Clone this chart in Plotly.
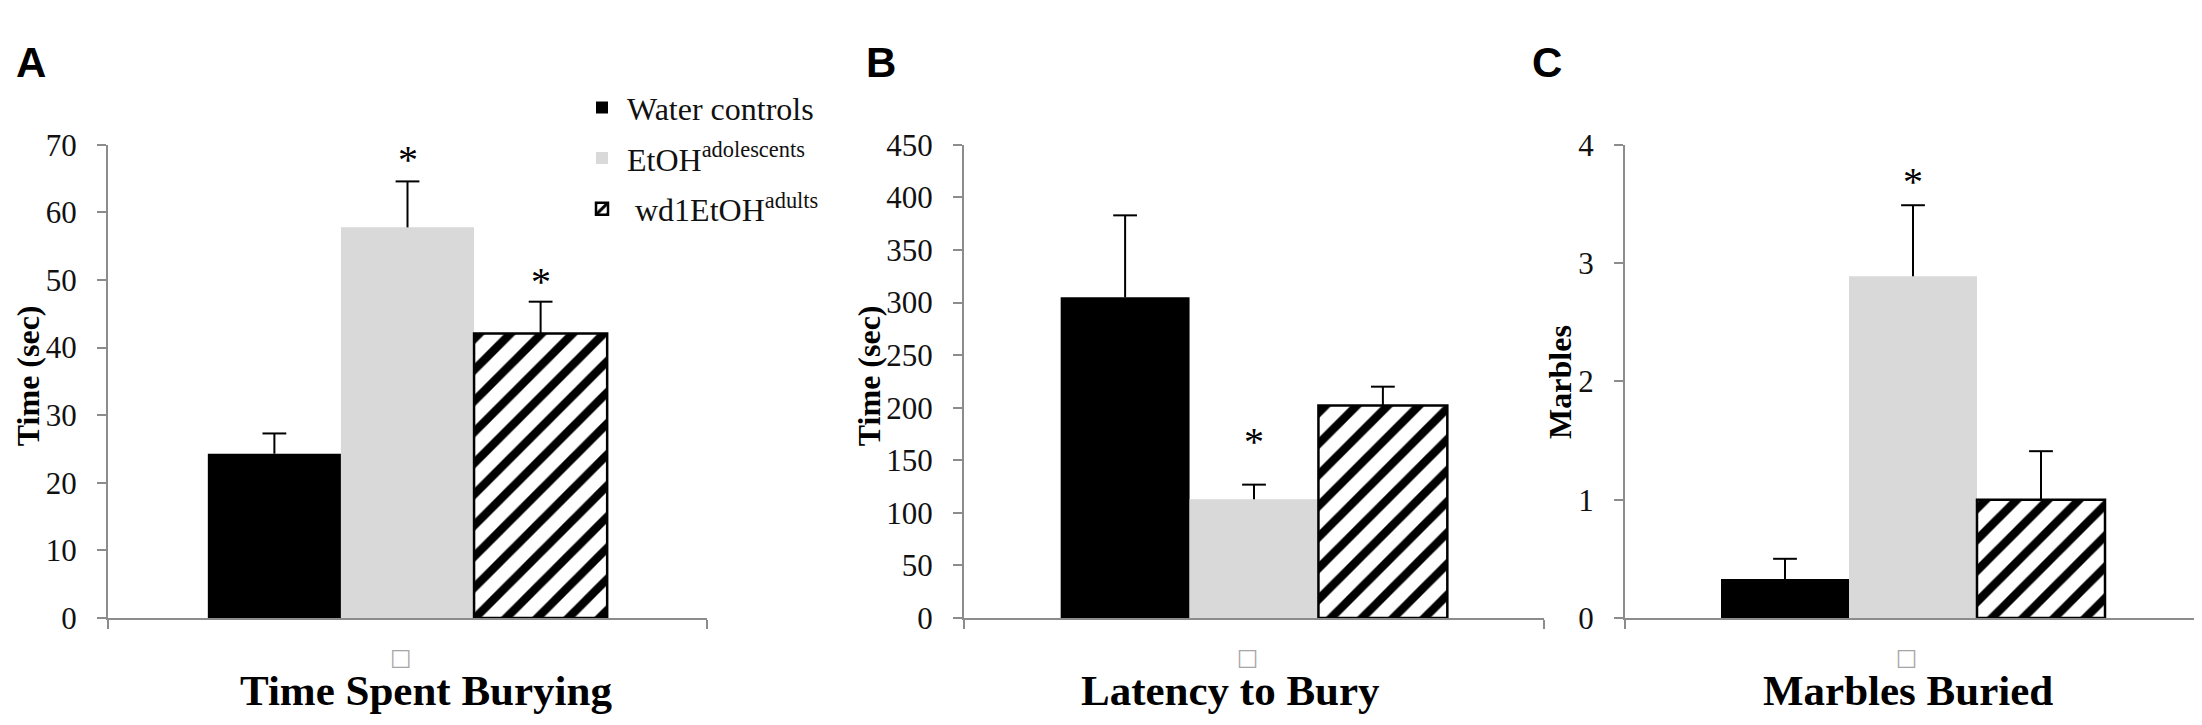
import plotly.graph_objects as go

# groups (legend labels) and bar styling order
groups = ["Water controls", "EtOH<sup>adolescents</sup>", " wd1EtOH<sup>adults</sup>"]
group_x = [0, 1, 2]

# panel A: time spent burying (sec)
burying_mean = [24.3, 57.8, 42.1]
burying_err = [3.0, 6.8, 4.7]
burying_star = [None, 67.9, 49.8]

# panel B: latency to bury (sec)
latency_mean = [305, 112.8, 202]
latency_err = [78, 14, 18]
latency_star = [None, 168, None]

# panel C: marbles buried
marbles_mean = [0.33, 2.89, 1.0]
marbles_err = [0.17, 0.6, 0.41]
marbles_star = [None, 3.69, None]

panel_titles = ["Time Spent Burying", "Latency to Bury", "Marbles Buried"]
panel_letters = ["A", "B", "C"]
y_titles = ["Time (sec)", "Time (sec)", "Marbles"]
y_ranges = [[0, 70], [0, 450], [0, 4]]
y_dticks = [10, 50, 1]

W, H = 2202, 725
x_domains = [[100 / W, 699 / W], [956 / W, 1536 / W], [1617 / W, 2193 / W]]
y_domain = [102 / H, 599 / H]

SERIF = "Liberation Serif"
SANS = "Liberation Sans"
GRID = "#8c8c8c"

styles = [
    dict(color="black", line=dict(width=0)),
    dict(color="#d9d9d9", line=dict(width=0)),
    dict(color="white", line=dict(color="black", width=2.5),
         pattern=dict(shape="/", fgcolor="black", bgcolor="white", fgopacity=1,
                      fillmode="replace", size=22, solidity=0.38)),
]

fig = go.Figure()

panels = [
    (burying_mean, burying_err, burying_star),
    (latency_mean, latency_err, latency_star),
    (marbles_mean, marbles_err, marbles_star),
]

for p, (means, errs, stars) in enumerate(panels):
    xa = "x" if p == 0 else f"x{p + 1}"
    ya = "y" if p == 0 else f"y{p + 1}"
    for g in range(3):
        # bar with upward-only error line (no caps)
        fig.add_trace(go.Bar(
            x=[group_x[g]], y=[means[g]], width=1,
            name=groups[g], legendgroup=groups[g], showlegend=(p == 0),
            marker=styles[g],
            error_y=dict(type="data", symmetric=False, array=[errs[g]], arrayminus=[0],
                         color="black", thickness=2, width=0),
            xaxis=xa, yaxis=ya, hoverinfo="skip",
        ))
        # top cap of the error bar
        fig.add_trace(go.Scatter(
            x=[group_x[g]], y=[means[g] + errs[g]], mode="markers",
            marker=dict(symbol="line-ew-open", size=17, color="black",
                        line=dict(color="black", width=2)),
            showlegend=False, xaxis=xa, yaxis=ya, hoverinfo="skip",
        ))
        if stars[g] is not None:
            fig.add_annotation(x=group_x[g], y=stars[g], xref=xa, yref=ya, text="*",
                               xanchor="center", yanchor="middle",
                               showarrow=False, font=dict(family=SERIF, size=40, color="black"))

layout_axes = {}
for p in range(3):
    sx = "" if p == 0 else str(p + 1)
    layout_axes[f"xaxis{sx}"] = dict(
        domain=x_domains[p], anchor=f"y{sx}", range=[-1.25, 3.25],
        showline=True, linecolor=GRID, linewidth=2, showgrid=False, zeroline=False,
        tickmode="array", tickvals=[0.95], ticktext=["\u25a1"], ticks="",
        tickfont=dict(family="DejaVu Sans", size=23, color="#a6a6a6"),
        ticklabelstandoff=17,
        minor=dict(tickmode="array", tickvals=[-1.25, 3.25], ticks="outside",
                   ticklen=9, tickcolor=GRID, tickwidth=2),
        fixedrange=True,
    )
    layout_axes[f"yaxis{sx}"] = dict(
        domain=y_domain, anchor=f"x{sx}", range=y_ranges[p], dtick=y_dticks[p],
        showline=True, linecolor=GRID, linewidth=2, showgrid=False, zeroline=False,
        ticks="outside", ticklen=9, tickcolor=GRID, tickwidth=2,
        tickfont=dict(family=SERIF, size=31, color="#111111"),
        ticklabelstandoff=14, fixedrange=True,
    )

fig.update_layout(
    width=W, height=H, margin=dict(l=0, r=0, t=0, b=0),
    paper_bgcolor="white", plot_bgcolor="white",
    barmode="overlay",
    font=dict(family=SERIF, color="black"),
    legend=dict(x=569 / W, y=1 - 58 / H, xanchor="left", yanchor="top",
                bgcolor="rgba(0,0,0,0)", font=dict(family=SERIF, size=32, color="#111111"),
                tracegroupgap=6, itemwidth=40),
    **layout_axes,
)

# panel letters, y titles and bottom titles
letter_x = [23, 873, 1539]
ytitle_x = [20, 861, 1552]
ytitle_y = [369, 369, 375]
title_x = [418, 1222, 1900]
for p in range(3):
    fig.add_annotation(x=letter_x[p] / W, y=1 - 39 / H, xref="paper", yref="paper",
                       text=f"<b>{panel_letters[p]}</b>", showarrow=False,
                       xanchor="center", yanchor="middle",
                       font=dict(family=SANS, size=42, color="black"))
    fig.add_annotation(x=ytitle_x[p] / W, y=1 - ytitle_y[p] / H, xref="paper", yref="paper",
                       text=f"<b>{y_titles[p]}</b>", textangle=-90, showarrow=False,
                       xanchor="center", yanchor="middle",
                       font=dict(family=SERIF, size=32, color="black"))
    fig.add_annotation(x=title_x[p] / W, y=1 - 699 / H, xref="paper", yref="paper",
                       text=f"<b>{panel_titles[p]}</b>", showarrow=False,
                       xanchor="center", yanchor="middle",
                       font=dict(family=SERIF, size=43, color="black"))

fig.write_html("out.html")
